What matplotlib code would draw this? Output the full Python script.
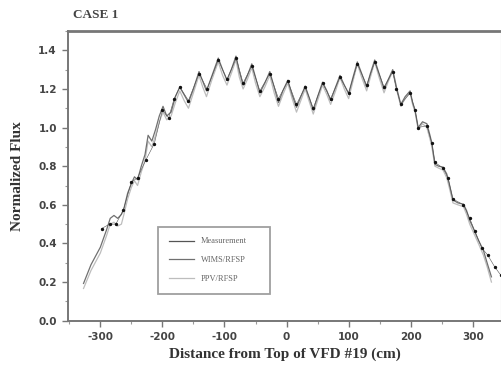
import matplotlib
matplotlib.use("Agg")
import matplotlib.pyplot as plt
from matplotlib.ticker import MultipleLocator

# ---- flux profiles along VFD #19 ----
labels = ["Measurement", "WIMS/RFSP", "PPV/RFSP"]

meas_x = [-298, -285, -275, -263, -250, -240, -227, -213, -200, -190, -181, -172,
          -158, -141, -128, -110, -96, -81, -70, -56, -43, -27, -13, 2, 16, 30,
          43, 58, 71, 86, 100, 114, 129, 142, 157, 171, 177, 184, 199, 207, 212,
          226, 234, 239, 252, 260, 268, 285, 295, 303, 315, 324, 335, 345]
meas_y = [0.477, 0.50, 0.50, 0.572, 0.718, 0.74, 0.83, 0.917, 1.09, 1.05, 1.15, 1.21,
          1.14, 1.28, 1.20, 1.35, 1.25, 1.36, 1.23, 1.32, 1.19, 1.28, 1.15, 1.24, 1.12, 1.21,
          1.10, 1.23, 1.15, 1.26, 1.18, 1.33, 1.22, 1.34, 1.21, 1.29, 1.20, 1.12, 1.18, 1.09, 1.00,
          1.01, 0.92, 0.82, 0.79, 0.74, 0.63, 0.60, 0.53, 0.465, 0.374, 0.34, 0.28, 0.236]

calc_x = [-327, -315, -300, -290, -284, -278, -272, -266, -262, -256, -250, -245,
          -240, -234, -228, -223, -217, -211, -205, -199, -193, -186, -179, -172,
          -165, -158, -150, -141, -135, -129, -120, -110, -103, -96, -89, -81.5,
          -76, -70, -63, -56, -50, -43, -35, -27, -20, -13, -6, 2, 9, 16, 23, 30,
          37, 43, 50, 58, 65, 71, 79, 86, 93, 100, 107, 114, 121, 129, 135, 142,
          149, 157, 164, 171, 177, 184, 191, 199, 203, 207, 212, 219, 226, 231,
          234, 239, 245, 252, 258, 262, 268, 276, 285, 290, 295, 302, 309, 317,
          323, 330]
wims_y = [0.193, 0.29, 0.38, 0.47, 0.53, 0.545, 0.53, 0.55, 0.58, 0.66, 0.71, 0.745,
          0.73, 0.80, 0.86, 0.96, 0.93, 0.99, 1.06, 1.11, 1.06, 1.08, 1.16, 1.21,
          1.17, 1.13, 1.20, 1.29, 1.24, 1.19, 1.27, 1.36, 1.30, 1.245, 1.30, 1.37,
          1.29, 1.22, 1.27, 1.33, 1.26, 1.18, 1.23, 1.29, 1.21, 1.13, 1.19, 1.245, 1.17, 1.105, 1.16, 1.215,
          1.15, 1.09, 1.16, 1.235, 1.19, 1.14, 1.21, 1.27, 1.22, 1.175, 1.26, 1.34, 1.28, 1.21, 1.28, 1.35,
          1.28, 1.20, 1.25, 1.30, 1.21, 1.12, 1.16, 1.19, 1.13, 1.09, 1.00, 1.03, 1.02, 0.96,
          0.92, 0.81, 0.80, 0.795, 0.76, 0.71, 0.625, 0.61, 0.603, 0.57, 0.52, 0.47, 0.417, 0.365,
          0.30, 0.227]
ppv_y = [0.167, 0.26, 0.35, 0.44, 0.50, 0.51, 0.49, 0.50, 0.55, 0.63, 0.69, 0.725,
         0.70, 0.77, 0.83, 0.93, 0.90, 0.96, 1.03, 1.08, 1.04, 1.06, 1.13, 1.19,
         1.14, 1.10, 1.18, 1.27, 1.21, 1.16, 1.25, 1.34, 1.27, 1.22, 1.28, 1.35,
         1.26, 1.20, 1.25, 1.31, 1.23, 1.16, 1.21, 1.27, 1.18, 1.11, 1.17, 1.23, 1.15, 1.08, 1.14, 1.20,
         1.13, 1.07, 1.14, 1.22, 1.17, 1.12, 1.19, 1.26, 1.20, 1.15, 1.24, 1.33, 1.26, 1.19, 1.26, 1.34,
         1.26, 1.18, 1.24, 1.29, 1.20, 1.11, 1.15, 1.18, 1.12, 1.08, 0.99, 1.02, 1.00, 0.94,
         0.90, 0.80, 0.79, 0.78, 0.74, 0.69, 0.61, 0.60, 0.59, 0.55, 0.50, 0.45, 0.40, 0.34,
         0.28, 0.20]

x_ticks = [-300, -200, -100, 0, 100, 200, 300]
y_ticks = [0.0, 0.2, 0.4, 0.6, 0.8, 1.0, 1.2, 1.4]

serif = ["Liberation Serif", "DejaVu Serif"]

fig = plt.figure(figsize=(5.02, 3.65), dpi=100)
ax = fig.add_axes([0.1355, 0.1214, 0.862, 0.7936])

ax.plot(calc_x, ppv_y, color="#bdbdbd", lw=0.9, label=labels[2], zorder=2)
ax.plot(calc_x, wims_y, color="#707070", lw=0.9, label=labels[1], zorder=3)
ax.plot(meas_x, meas_y, color="#555555", lw=0.4, marker="o", ms=1.4,
        mfc="#111111", mec="#111111", label=labels[0], zorder=4)

ax.set_xlim(-352, 345)
ax.set_ylim(0, 1.5)
ax.set_xticks(x_ticks)
ax.set_yticks(y_ticks)
ax.xaxis.set_minor_locator(MultipleLocator(50))
ax.yaxis.set_minor_locator(MultipleLocator(0.1))
ax.set_xticklabels([str(v) for v in x_ticks])
ax.set_yticklabels([f"{v:.1f}" for v in y_ticks])
ax.tick_params(which="major", direction="out", length=4, width=1, color="#777777",
               labelsize=7.5, labelcolor="#444444", pad=4)
ax.tick_params(which="minor", direction="out", length=2, width=0.8, color="#999999")
ax.tick_params(top=False, right=False)
for lbl in ax.get_xticklabels() + ax.get_yticklabels():
    lbl.set_fontweight("bold")

for side in ["left", "bottom"]:
    ax.spines[side].set_color("#777777")
    ax.spines[side].set_linewidth(1.4)
ax.spines["top"].set_color("#777777")
ax.spines["top"].set_linewidth(2)
ax.spines["right"].set_color("#bbbbbb")
ax.spines["right"].set_linewidth(0.8)

ax.set_xlabel("Distance from Top of VFD #19 (cm)", family=serif, fontweight="bold",
              fontsize=11, color="#333333", labelpad=4)
ax.set_ylabel("Normalized Flux", family=serif, fontweight="bold",
              fontsize=11, color="#333333", labelpad=10)
fig.text(0.145, 0.958, "CASE 1", family=serif, fontweight="bold", fontsize=9.5,
         color="#444444", ha="left", va="center")

handles, names = ax.get_legend_handles_labels()
order = [2, 1, 0]
leg = ax.legend([handles[i] for i in order], [names[i] for i in order],
                loc="lower left", bbox_to_anchor=(0.199, 0.078, 0.277, 0.235),
                mode="expand", fancybox=False, frameon=True, handlelength=3.0,
                labelspacing=1.3, borderpad=1.3, prop={"family": serif, "size": 6})
leg.get_frame().set_edgecolor("#888888")
leg.get_frame().set_linewidth(1.3)
for line in leg.get_lines():
    line.set_marker("")
    line.set_linewidth(0.9)
for txt in leg.get_texts():
    txt.set_color("#666666")

fig.savefig("out.png", dpi=100)
